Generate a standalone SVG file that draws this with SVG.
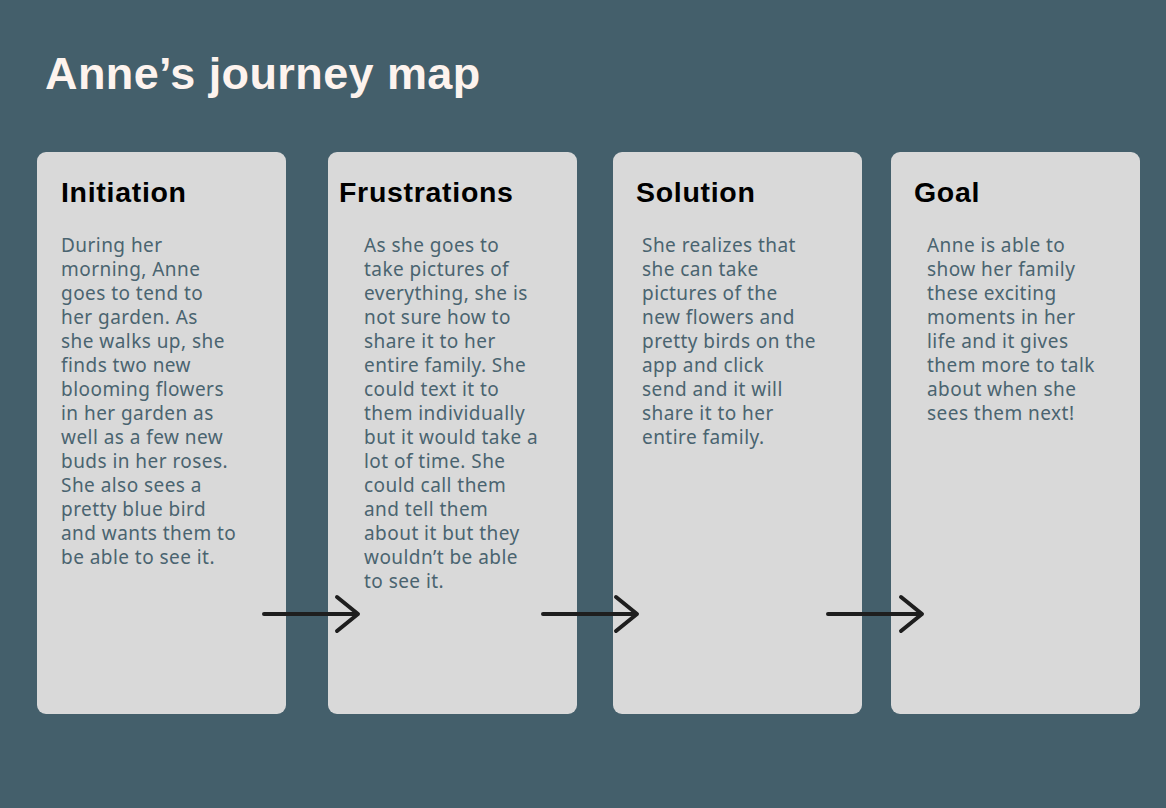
<svg xmlns="http://www.w3.org/2000/svg" width="1166" height="808" viewBox="0 0 1166 808">
<style>
.card{fill:#d9d9d9}
.h{font-family:"Liberation Sans",Arial,sans-serif;font-weight:bold;font-size:28.5px;letter-spacing:0.7px;fill:#000}
.b{font-family:"Noto Sans",sans-serif;font-size:19px;letter-spacing:0.45px;fill:#4a6470}
.arr{stroke:#1e1e1e;stroke-width:4;fill:none;stroke-linecap:round;stroke-linejoin:round}
</style>
<rect width="1166" height="808" fill="#445f6b"/>
<text x="45" y="89" font-family="Liberation Sans,Arial,sans-serif" font-weight="bold" font-size="45" letter-spacing="0.4" fill="#fdf3ee">Anne’s journey map</text>
<g id="initiation">
<rect class="card" x="37" y="152" width="249" height="562" rx="9"/>
<text class="h" x="61" y="202">Initiation</text>
<text class="b" x="61" y="252"><tspan x="61">During her</tspan><tspan x="61" dy="24">morning, Anne</tspan><tspan x="61" dy="24">goes to tend to</tspan><tspan x="61" dy="24">her garden. As</tspan><tspan x="61" dy="24">she walks up, she</tspan><tspan x="61" dy="24">finds two new</tspan><tspan x="61" dy="24">blooming flowers</tspan><tspan x="61" dy="24">in her garden as</tspan><tspan x="61" dy="24">well as a few new</tspan><tspan x="61" dy="24">buds in her roses.</tspan><tspan x="61" dy="24">She also sees a</tspan><tspan x="61" dy="24">pretty blue bird</tspan><tspan x="61" dy="24">and wants them to</tspan><tspan x="61" dy="24">be able to see it.</tspan></text>
</g>
<g id="frustrations">
<rect class="card" x="328" y="152" width="249" height="562" rx="9"/>
<text class="h" x="339" y="202">Frustrations</text>
<text class="b" x="364" y="252"><tspan x="364">As she goes to</tspan><tspan x="364" dy="24">take pictures of</tspan><tspan x="364" dy="24">everything, she is</tspan><tspan x="364" dy="24">not sure how to</tspan><tspan x="364" dy="24">share it to her</tspan><tspan x="364" dy="24">entire family. She</tspan><tspan x="364" dy="24">could text it to</tspan><tspan x="364" dy="24">them individually</tspan><tspan x="364" dy="24">but it would take a</tspan><tspan x="364" dy="24">lot of time. She</tspan><tspan x="364" dy="24">could call them</tspan><tspan x="364" dy="24">and tell them</tspan><tspan x="364" dy="24">about it but they</tspan><tspan x="364" dy="24">wouldn’t be able</tspan><tspan x="364" dy="24">to see it.</tspan></text>
</g>
<g id="solution">
<rect class="card" x="613" y="152" width="249" height="562" rx="9"/>
<text class="h" x="636" y="202">Solution</text>
<text class="b" x="642" y="252"><tspan x="642">She realizes that</tspan><tspan x="642" dy="24">she can take</tspan><tspan x="642" dy="24">pictures of the</tspan><tspan x="642" dy="24">new flowers and</tspan><tspan x="642" dy="24">pretty birds on the</tspan><tspan x="642" dy="24">app and click</tspan><tspan x="642" dy="24">send and it will</tspan><tspan x="642" dy="24">share it to her</tspan><tspan x="642" dy="24">entire family.</tspan></text>
</g>
<g id="goal">
<rect class="card" x="891" y="152" width="249" height="562" rx="9"/>
<text class="h" x="914" y="202">Goal</text>
<text class="b" x="927" y="252"><tspan x="927">Anne is able to</tspan><tspan x="927" dy="24">show her family</tspan><tspan x="927" dy="24">these exciting</tspan><tspan x="927" dy="24">moments in her</tspan><tspan x="927" dy="24">life and it gives</tspan><tspan x="927" dy="24">them more to talk</tspan><tspan x="927" dy="24">about when she</tspan><tspan x="927" dy="24">sees them next!</tspan></text>
</g>
<g id="connectors">
<path class="arr" d="M264 614H357M337 597L358 614L337 631"/>
<path class="arr" d="M543 614H636M616 597L637 614L616 631"/>
<path class="arr" d="M828 614H921M901 597L922 614L901 631"/>
</g>
</svg>
